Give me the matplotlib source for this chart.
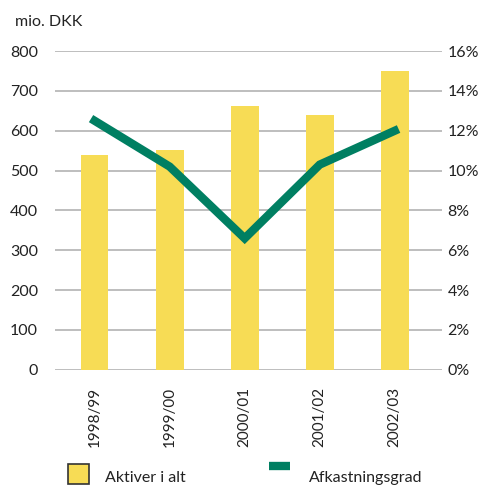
import matplotlib.pyplot as plt
from matplotlib.patches import Rectangle
from matplotlib.lines import Line2D

# data
years = ['1998/99', '1999/00', '2000/01', '2001/02', '2002/03']
aktiver = [538, 552, 662, 640, 750]          # mio. DKK
afkast = [12.5, 10.2, 6.6, 10.3, 12.0]        # percent

yellow = '#f7dc55'
green = '#007f62'
grid_col = '#b9b9b9'
txt = '#222222'

plt.rcParams['font.family'] = ['Lato', 'DejaVu Sans']

fig = plt.figure(figsize=(4.81, 4.86), dpi=100)
ax = fig.add_axes([0.114, 0.239, 0.805, 0.656])
ax2 = ax.twinx()

x = list(range(len(years)))
ax.bar(x, aktiver, width=0.37, color=yellow, zorder=2)
ax.set_ylim(0, 800)
ax.set_xlim(-0.53, 4.63)
ax.set_yticks(range(0, 801, 100))
ax.yaxis.grid(True, color=grid_col, lw=1.3, zorder=0)
ax.set_axisbelow(True)
ax.tick_params(axis='y', length=0, pad=12, labelsize=11.5, labelcolor=txt)
ax.set_xticks(x)
ax.set_xticklabels(years, rotation=90, fontsize=11, color=txt)
ax.tick_params(axis='x', length=0, pad=12)

ax2.plot(x, afkast, color=green, lw=6, solid_joinstyle='miter', zorder=3)
ax2.set_ylim(0, 16)
ax2.set_yticks(range(0, 17, 2))
ax2.set_yticklabels(['%d%%' % v for v in range(0, 17, 2)])
ax2.tick_params(axis='y', length=0, pad=4, labelsize=11.5, labelcolor=txt)

for a in (ax, ax2):
    for s in a.spines.values():
        s.set_visible(False)

fig.text(0.031, 0.955, 'mio. DKK', fontsize=11.5, color=txt, va='center')

# legend drawn by hand
fig.patches.append(Rectangle((0.142, 0.005), 0.042, 0.04, transform=fig.transFigure,
                             facecolor=yellow, edgecolor='#333333', lw=1.2))
fig.text(0.218, 0.016, 'Aktiver i alt', fontsize=11.5, color=txt, va='center')
fig.lines.append(Line2D([0.56, 0.603], [0.042, 0.042], transform=fig.transFigure,
                        color=green, lw=6, solid_capstyle='butt'))
fig.text(0.643, 0.016, 'Afkastningsgrad', fontsize=11.5, color=txt, va='center')

fig.savefig('out.png', dpi=100)
